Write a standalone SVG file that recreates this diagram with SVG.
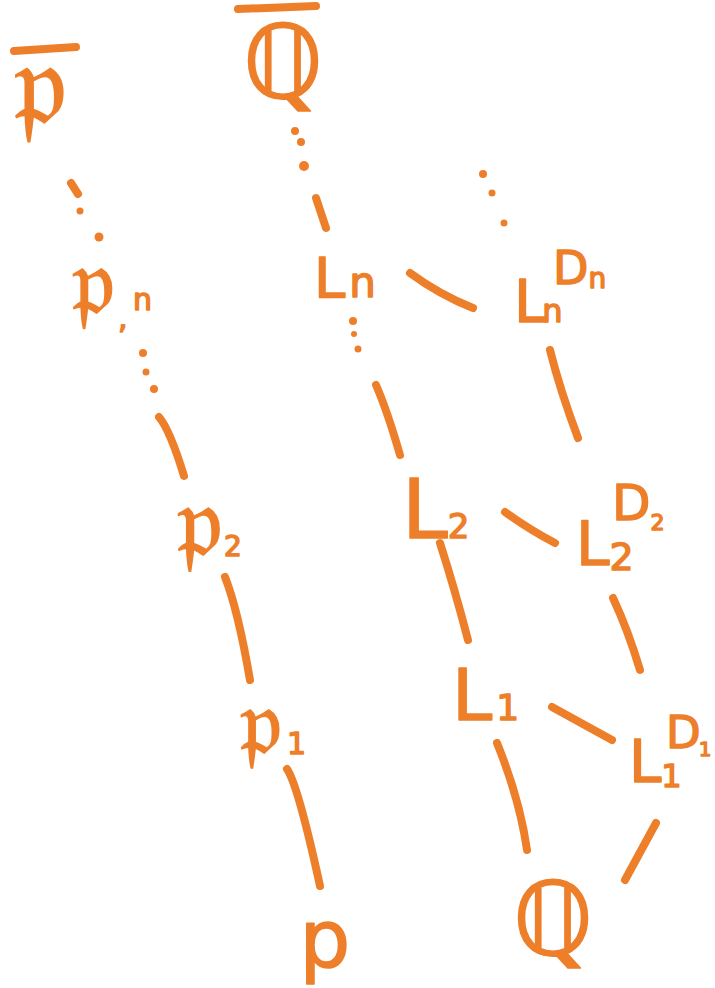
<svg xmlns="http://www.w3.org/2000/svg" width="715" height="988" viewBox="0 0 715 988">
<style>
.t{font-family:"DejaVu Sans","Noto Sans",sans-serif;fill:#EE7F2A;stroke:#EE7F2A;stroke-width:1.5;stroke-linejoin:round}
.c{fill:none;stroke:#EE7F2A;stroke-width:8;stroke-linecap:round}
.d{fill:#EE7F2A}
</style>
<rect width="715" height="988" fill="#fff"/>
<g id="pbar">
<line class="c" x1="14" y1="51" x2="76" y2="47"/>
<text class="t" x="40" y="124" font-size="116" text-anchor="middle">𝔭</text>
</g>
<g id="Qbar">
<line class="c" x1="238" y1="9" x2="316" y2="6"/>
<text class="t" x="283" y="98" font-size="102" text-anchor="middle">ℚ</text>
</g>
<g id="pn">
<text class="t" x="93" y="314" font-size="94" text-anchor="middle">𝔭</text>
<text class="t" x="118" y="328" font-size="30">,</text>
<text class="t" x="133" y="310" font-size="30">n</text>
</g>
<g id="p2">
<text class="t" x="199" y="556" font-size="100" text-anchor="middle">𝔭</text>
<text class="t" x="224" y="556" font-size="28">2</text>
</g>
<g id="p1">
<text class="t" x="261" y="754" font-size="92" text-anchor="middle">𝔭</text>
<text class="t" x="287" y="754" font-size="30">1</text>
</g>
<g id="p">
<text class="t" x="325" y="967" font-size="80" text-anchor="middle">p</text>
</g>
<g id="Ln">
<text class="t" x="314" y="297" font-size="56">L<tspan font-size="42" dx="4">n</tspan></text>
</g>
<g id="LnDn">
<text class="t" x="514" y="322" font-size="58">L<tspan font-size="32" dx="-4">n</tspan></text>
<text class="t" x="553" y="284" font-size="46">D<tspan font-size="28" dy="4">n</tspan></text>
</g>
<g id="L2">
<text class="t" x="402" y="538" font-size="82">L<tspan font-size="34">2</tspan></text>
</g>
<g id="L2D2">
<text class="t" x="576" y="565" font-size="60">L<tspan font-size="38" dy="5">2</tspan></text>
<text class="t" x="612" y="520" font-size="50">D<tspan font-size="22" dy="10">2</tspan></text>
</g>
<g id="L1">
<text class="t" x="452" y="720" font-size="72">L<tspan font-size="36" dx="4">1</tspan></text>
</g>
<g id="L1D1">
<text class="t" x="629" y="782" font-size="58">L<tspan font-size="32" dy="5">1</tspan></text>
<text class="t" x="666" y="748" font-size="45">D<tspan font-size="20" dx="-2" dy="8">1</tspan></text>
</g>
<g id="Q">
<text class="t" x="553" y="955" font-size="102" text-anchor="middle">ℚ</text>
</g>
<g id="connectors">
<path class="c" d="M71,183 L78,194"/>
<circle class="d" cx="80" cy="211" r="3.5"/>
<circle class="d" cx="99" cy="237" r="4.5"/>
<circle class="d" cx="295" cy="131" r="4"/>
<circle class="d" cx="301" cy="142" r="4"/>
<circle class="d" cx="304" cy="166" r="5"/>
<path class="c" d="M316,198 L326,228"/>
<circle class="d" cx="143" cy="353" r="4"/>
<circle class="d" cx="146" cy="372" r="3.5"/>
<circle class="d" cx="154" cy="389" r="4"/>
<path class="c" d="M159,417 Q170,430 184,476"/>
<path class="c" d="M225,577 Q238,610 250,680"/>
<path class="c" d="M287,769 Q298,785 320,886"/>
<circle class="d" cx="353" cy="321" r="4"/>
<circle class="d" cx="354" cy="334" r="3"/>
<circle class="d" cx="358" cy="349" r="3.5"/>
<path class="c" d="M376,385 Q387,410 400,455"/>
<circle class="d" cx="483" cy="174" r="4"/>
<circle class="d" cx="492" cy="193" r="3.5"/>
<circle class="d" cx="504" cy="223" r="3.5"/>
<path class="c" d="M410,273 Q440,295 473,308"/>
<path class="c" d="M550,350 Q560,390 578,438"/>
<path class="c" d="M505,512 Q530,530 555,543"/>
<path class="c" d="M440,543 Q455,590 468,640"/>
<path class="c" d="M613,598 Q628,630 640,670"/>
<path class="c" d="M552,707 L612,740"/>
<path class="c" d="M497,743 Q520,800 527,850"/>
<path class="c" d="M656,823 L625,880"/>
</g>
</svg>
